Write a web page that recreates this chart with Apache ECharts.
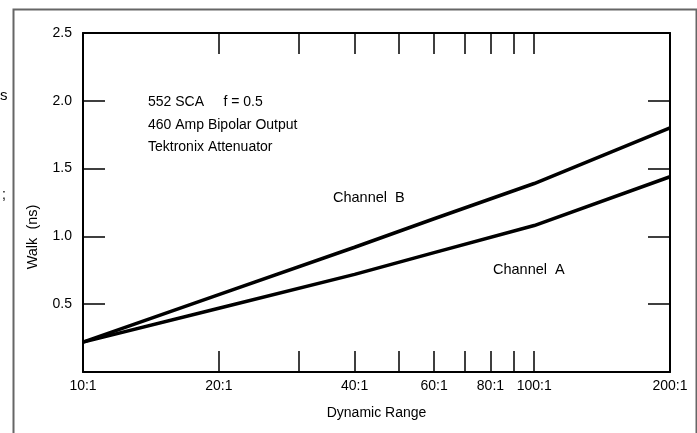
<!DOCTYPE html>
<html>
<head>
<meta charset="utf-8">
<script src="https://cdn.jsdelivr.net/npm/echarts@6/dist/echarts.min.js"></script>
<style>
html,body{margin:0;padding:0;background:#fff;}
#chart{width:697px;height:433px;}
</style>
</head>
<body>
<div id="chart"></div>
<script>
// Dynamic range (N:1) and walk (ns)
const dynamicRange = [10, 20, 40, 60, 100, 200];
const channelA = [0.22, 0.47, 0.72, 0.88, 1.08, 1.44];
const channelB = [0.22, 0.57, 0.92, 1.13, 1.39, 1.80];
const xTickValues = [20, 30, 40, 50, 60, 70, 80, 90, 100];
const xLabelValues = [10, 20, 40, 60, 80, 100, 200];
const yTickValues = [0.5, 1.0, 1.5, 2.0];
const yLabelValues = [0.5, 1.0, 1.5, 2.0, 2.5];
const xMin = 10, xMax = 200;
const yMin = 0, yMax = 2.5;

const lg = v => Math.log10(v);
const toPairs = ys => dynamicRange.map((x, i) => [lg(x), ys[i]]);

const FONT = 'Liberation Sans, Arial, Helvetica, sans-serif';
const INK = '#000';

const chart = echarts.init(document.getElementById('chart'), null, {renderer: 'canvas'});

const xBase = {
  type: 'value',
  min: lg(xMin),
  max: lg(xMax),
  axisLine: {show: true, onZero: false, lineStyle: {color: INK, width: 2}},
  axisTick: {show: true, inside: true, length: 21, lineStyle: {color: INK, width: 1.5}, customValues: xTickValues.map(lg)},
  splitLine: {show: false}
};
const yBase = {
  type: 'value',
  min: yMin,
  max: yMax,
  axisLine: {show: true, onZero: false, lineStyle: {color: INK, width: 2}},
  axisTick: {show: true, inside: true, length: 22, lineStyle: {color: INK, width: 1.5}, customValues: yTickValues},
  splitLine: {show: false}
};

chart.setOption({
  animation: false,
  backgroundColor: '#fff',
  textStyle: {fontFamily: FONT},
  grid: {left: 83, top: 33, right: 27, bottom: 61, containLabel: false},
  xAxis: [
    Object.assign({}, xBase, {
      position: 'bottom',
      name: 'Dynamic Range',
      nameLocation: 'middle',
      nameGap: 34,
      nameTextStyle: {fontFamily: FONT, fontSize: 14, color: INK},
      axisLabel: {
        show: true, margin: 7, fontFamily: FONT, fontSize: 14, color: INK,
        customValues: xLabelValues.map(lg),
        formatter: v => Math.round(Math.pow(10, v)) + ':1'
      }
    }),
    Object.assign({}, xBase, {position: 'top', axisLabel: {show: false}})
  ],
  yAxis: [
    Object.assign({}, yBase, {
      position: 'left',
      axisLabel: {
        show: true, margin: 11, fontFamily: FONT, fontSize: 14, color: INK,
        customValues: yLabelValues,
        formatter: v => v.toFixed(1)
      }
    }),
    Object.assign({}, yBase, {position: 'right', axisLabel: {show: false}})
  ],
  graphic: [
    {type: 'rect', left: 11, top: 7, shape: {width: 683, height: 440}, style: {fill: 'none', stroke: '#666', lineWidth: 2}, silent: true},
    {type: 'text', x: 33, y: 237, rotation: Math.PI / 2, style: {text: 'Walk  (ns)', font: '14.5px ' + FONT, fill: INK, align: 'center', verticalAlign: 'middle'}},
    {type: 'text', x: 148, y: 102, style: {text: '552 SCA     f = 0.5', font: '14px ' + FONT, fill: INK, verticalAlign: 'middle'}},
    {type: 'text', x: 148, y: 125, style: {text: '460 Amp Bipolar Output', font: '14px ' + FONT, fill: INK, verticalAlign: 'middle'}},
    {type: 'text', x: 148, y: 147, style: {text: 'Tektronix Attenuator', font: '14px ' + FONT, fill: INK, verticalAlign: 'middle'}},
    {type: 'text', x: 333, y: 198, style: {text: 'Channel  B', font: '14.5px ' + FONT, fill: INK, verticalAlign: 'middle'}},
    {type: 'text', x: 493, y: 270, style: {text: 'Channel  A', font: '14.5px ' + FONT, fill: INK, verticalAlign: 'middle'}},
    {type: 'text', x: 0, y: 96, style: {text: 's', font: '15px ' + FONT, fill: INK, verticalAlign: 'middle'}},
    {type: 'text', x: 2, y: 195, style: {text: ';', font: '14px ' + FONT, fill: INK, verticalAlign: 'middle'}}
  ],
  series: [
    {name: 'Channel A', type: 'line', xAxisIndex: 0, yAxisIndex: 0, data: toPairs(channelA), showSymbol: false, symbol: 'none', lineStyle: {color: INK, width: 3.5}, z: 3},
    {name: 'Channel B', type: 'line', xAxisIndex: 0, yAxisIndex: 0, data: toPairs(channelB), showSymbol: false, symbol: 'none', lineStyle: {color: INK, width: 3.5}, z: 3}
  ]
});
</script>
</body>
</html>
